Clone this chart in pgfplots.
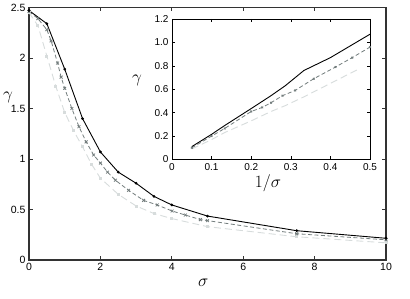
\documentclass[border=0pt]{standalone}
\usepackage{pgfplots}
\pgfplotsset{compat=1.18}
\usepackage{fontspec}
\setmainfont{Liberation Sans}
\definecolor{midg}{RGB}{115,125,125}
\definecolor{lightg}{RGB}{215,220,220}
\begin{document}
\begin{tikzpicture}
\useasboundingbox (0pt,0pt) rectangle (410pt,299pt);
\begin{axis}[
  at={(29pt,39pt)}, anchor=south west,
  scale only axis, width=357pt, height=252.5pt,
  xmin=0, xmax=10, ymin=0, ymax=2.5,
  xtick={0,2,4,6,8,10},
  ytick={0,0.5,1,1.5,2,2.5},
  yticklabels={0,0.5,1,1.5,2,2.5},
  tick align=inside, major tick length=4pt,
  axis line style={draw=black!80, line width=1.2pt},
  tick style={draw=black!80, line width=0.8pt},
  /pgf/number format/assume math mode=true,
  tick label style={font=\fontsize{10.5}{12}\selectfont},
  clip=false,
]
\addplot[lightg, line width=0.9pt, dash pattern=on 7pt off 4pt, mark=square*, mark size=1pt, mark options={solid}] coordinates {
(0,2.45)(0.25,2.32)(0.5,2.02)(0.75,1.72)(1,1.46)(1.25,1.28)(1.5,1.12)(1.75,0.95)(2,0.81)(2.5,0.65)(3,0.535)(3.5,0.46)(4,0.41)(5,0.33)(7.5,0.23)(10,0.17)};
\addplot[midg, line width=0.8pt, dash pattern=on 4pt off 2.5pt, mark=x, mark size=2pt, mark options={solid}] coordinates {
(0,2.46)(0.25,2.39)(0.5,2.28)(0.62,2.17)(0.8,1.95)(0.9,1.81)(1.0,1.70)(1.2,1.50)(1.4,1.32)(1.6,1.17)(1.81,1.04)(2,0.96)(2.2,0.87)(2.42,0.79)(2.79,0.69)(3.21,0.59)(3.59,0.545)(4.01,0.485)(4.38,0.445)(4.8,0.40)(5,0.39)(7.5,0.26)(10,0.20)};
\addplot[black, line width=0.9pt, mark=*, mark size=0.9pt] coordinates {
(0,2.47)(0.5,2.34)(1,1.89)(1.5,1.40)(2,1.07)(2.5,0.87)(3,0.76)(3.5,0.63)(4,0.545)(5,0.435)(7.5,0.29)(10,0.215)};
\node at (axis description cs:-0.059,0.645) {\fontsize{16}{18}\selectfont$\gamma$};
\node at (axis description cs:0.488,-0.09) {\fontsize{16}{18}\selectfont$\sigma$};
\end{axis}
\begin{axis}[
  at={(172pt,139.5pt)}, anchor=south west,
  scale only axis, width=198pt, height=140.5pt,
  xmin=0, xmax=0.5, ymin=0, ymax=1.2,
  xtick={0,0.1,0.2,0.3,0.4,0.5},
  xticklabels={0,0.1,0.2,0.3,0.4,0.5},
  ytick={0,0.2,0.4,0.6,0.8,1.0,1.2},
  yticklabels={0,0.2,0.4,0.6,0.8,1.0,1.2},
  tick align=inside, major tick length=3pt,
  axis background/.style={fill=white},
  axis line style={draw=black, line width=0.8pt},
  tick style={draw=black, line width=0.6pt},
  /pgf/number format/assume math mode=true,
  tick label style={font=\fontsize{10}{11}\selectfont},
  clip=false,
]
\addplot[lightg, line width=0.9pt, dash pattern=on 7pt off 4pt] coordinates {
(0.05,0.09)(0.1,0.17)(0.133,0.23)(0.2,0.33)(0.25,0.41)(0.286,0.46)(0.333,0.535)(0.4,0.65)(0.47,0.77)};
\addplot[midg, line width=0.8pt, dash pattern=on 4pt off 2.5pt, mark=x, mark size=1.2pt, mark options={solid}] coordinates {
(0.05,0.10)(0.1,0.20)(0.133,0.265)(0.2,0.41)(0.228,0.445)(0.25,0.485)(0.279,0.545)(0.311,0.59)(0.358,0.69)(0.413,0.79)(0.455,0.87)(0.5,0.96)};
\addplot[black, line width=0.9pt] coordinates {
(0.05,0.11)(0.1,0.215)(0.133,0.29)(0.2,0.435)(0.25,0.545)(0.286,0.63)(0.333,0.76)(0.4,0.87)(0.5,1.07)};
\node at (axis description cs:-0.177,0.566) {\fontsize{16}{18}\selectfont$\gamma$};
\node at (axis description cs:0.485,-0.167) {\fontsize{16}{18}\selectfont$1/\sigma$};
\end{axis}
\end{tikzpicture}
\end{document}
